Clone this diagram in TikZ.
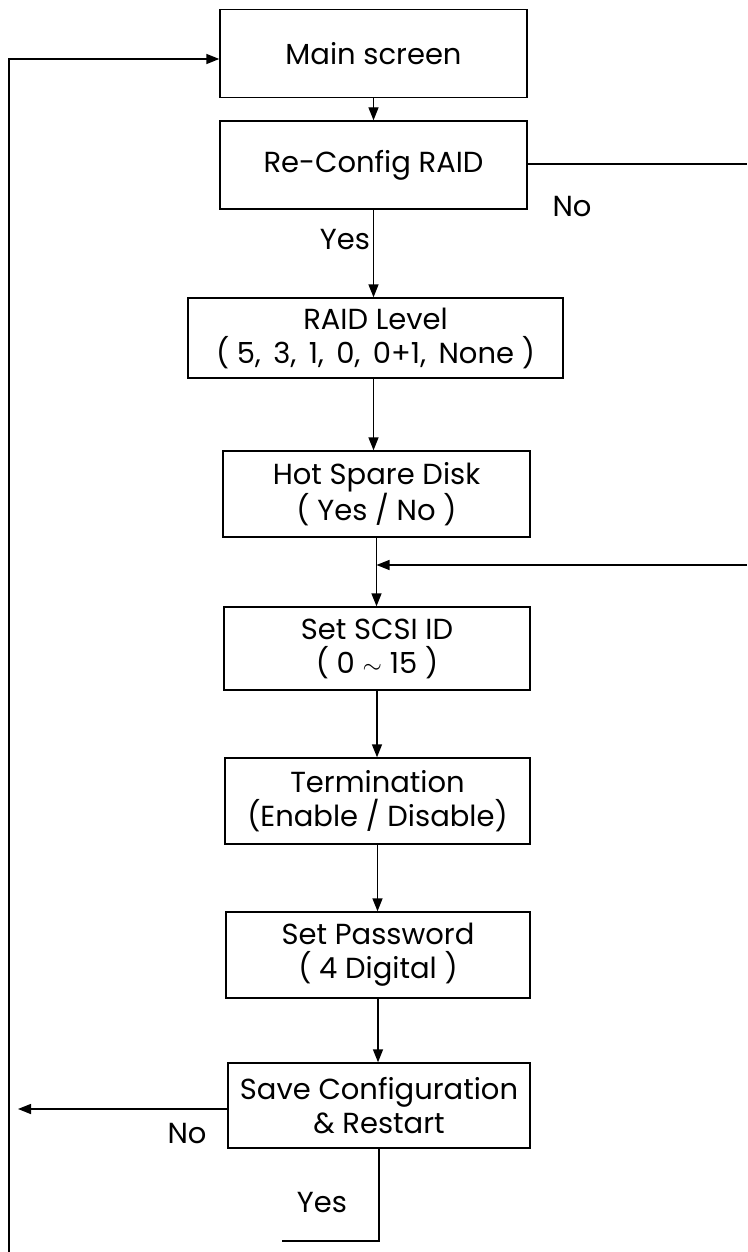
\documentclass[tikz,border=0pt]{standalone}
\usepackage{fontspec}
\setmainfont{Poppins}
\usetikzlibrary{arrows.meta}
\begin{document}
\begin{tikzpicture}[x=1pt,y=-1pt,
  box/.style={draw,line width=1.4pt,inner sep=0pt,align=center,
    font=\fontsize{29}{34}\selectfont},
  lbl/.style={inner sep=0pt,font=\fontsize{29}{34}\selectfont},
  arr/.style={line width=1.4pt,-{Triangle[length=13pt,width=10pt]}},
  ln/.style={line width=1.4pt}]
\fill[white] (0,0) rectangle (747,1252);
\useasboundingbox (0,0) rectangle (747,1252);
\node[box,minimum width=307pt,minimum height=88pt] (main) at (373.5,53.5) {Main screen};
\node[box,minimum width=307pt,minimum height=88pt] (recfg) at (373.5,165) {Re-Config RAID};
\node[box,minimum width=375pt,minimum height=80pt] (raid) at (375.5,338) {RAID Level\\( 5,\, 3,\, 1,\, 0,\, 0+1,\, None )};
\node[box,minimum width=307pt,minimum height=86pt] (hot) at (376.5,494) {Hot Spare Disk\\( Yes / No )};
\node[box,minimum width=306pt,minimum height=83pt] (scsi) at (377,648.5) {Set SCSI ID\\( 0 $\sim$ 15 )};
\node[box,minimum width=305pt,minimum height=86pt] (term) at (377.5,801) {Termination\\(Enable / Disable)};
\node[box,minimum width=304pt,minimum height=86pt] (pass) at (378,955) {Set Password\\( 4 Digital )};
\node[box,minimum width=302pt,minimum height=85pt] (save) at (379,1105.5) {Save Configuration\\\& Restart};
% labels
\node[lbl] (no1) at (572,207) {No};
\node[lbl] (yes1) at (345,240) {Yes};
\node[lbl] (no2) at (187,1133) {No};
\node[lbl] (yes2) at (322,1203) {Yes};
% coordinates
\coordinate (nr) at (747,164);
\coordinate (jr) at (747,565);
\coordinate (nl) at (18,1109);
\coordinate (lt) at (9,59);
\coordinate (lb) at (9,1252);
\coordinate (yb) at (282,1241);
% connectors
\draw[arr] (main.south) -- (recfg.north);
\draw[arr] (recfg.south) -- (recfg.south |- raid.north);
\draw[ln] (recfg.east |- nr) -- (nr);
\draw[arr] (raid.south -| recfg.south) -- (recfg.south |- hot.north);
\draw[arr] (hot.south) -- (hot.south |- scsi.north);
\draw[arr] (jr) -- (jr -| hot.south);
\draw[arr] (scsi.south) -- (scsi.south |- term.north);
\draw[arr] (term.south) -- (term.south |- pass.north);
\draw[arr] (pass.south) -- (pass.south |- save.north);
\draw[arr] (save.west |- nl) -- (nl);
\draw[arr] (lb) -- (lt) -- (lt -| main.west);
\draw[ln] (save.south) -- (save.south |- yb) -- (yb);
\end{tikzpicture}
\end{document}
